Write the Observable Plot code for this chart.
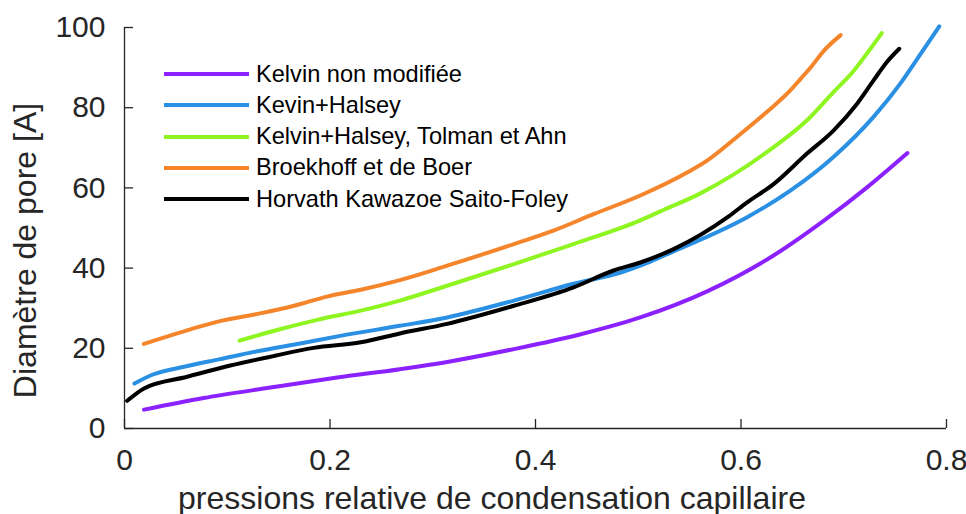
<!DOCTYPE html>
<html><head><meta charset="utf-8">
<script src="https://cdn.jsdelivr.net/npm/d3@7"></script>
<script src="https://cdn.jsdelivr.net/npm/@observablehq/plot@0.6"></script>
<style>
body{margin:0;background:#fff;}
#wrap{position:relative;width:966px;height:514px;font-family:"Liberation Sans",Arial,Helvetica,sans-serif;}
.leg{position:absolute;left:164px;height:30px;display:flex;align-items:center;font-size:23.6px;color:#000;white-space:nowrap;}
.leg .sw{width:85px;height:4px;margin-right:7px;}
</style></head><body><div id="wrap"></div>
<script>
const seriesNames = ["Kelvin non modifiée", "Kevin+Halsey", "Kelvin+Halsey, Tolman et Ahn", "Broekhoff et de Boer", "Horvath Kawazoe Saito-Foley"];
const seriesColors = ["#8c21ff", "#2a90e4", "#8ef520", "#f5852a", "#000000"];

const kelvinX = [0.019,0.077,0.142,0.207,0.268,0.314,0.379,0.444,0.502,0.567,0.632,0.681,0.723,0.762];
const kelvinY = [4.7,7.6,10.2,12.7,14.8,16.6,19.8,23.5,27.7,34.2,43.2,51.9,60.2,68.7];

const halseyX = [0.0097,0.027,0.058,0.093,0.132,0.171,0.21,0.268,0.314,0.379,0.437,0.483,0.502,0.522,0.551,0.606,0.648,0.690,0.729,0.755,0.775,0.793];
const halseyY = [11.2,13.4,15.4,17.3,19.4,21.2,23.1,25.6,27.7,31.9,36.1,38.9,40.6,42.8,46.0,52.7,59.3,67.7,77.7,86.0,93.5,100.3];

const tolmanX = [0.112,0.152,0.1875,0.23,0.268,0.314,0.379,0.437,0.502,0.522,0.561,0.625,0.664,0.690,0.710,0.726,0.737];
const tolmanY = [21.9,24.8,27.1,29.4,31.9,35.6,41.0,46.0,51.9,54.2,58.7,68.9,76.8,83.9,89.3,94.7,98.6];

const broekX = [0.0188,0.065,0.095,0.132,0.165,0.197,0.23,0.268,0.314,0.379,0.418,0.457,0.502,0.548,0.567,0.596,0.625,0.648,0.658,0.668,0.681,0.697];
const broekY = [21.1,24.8,26.9,28.7,30.6,32.9,34.6,37.0,40.6,46.0,49.4,53.5,58.1,63.9,66.8,72.7,78.9,84.3,87.2,90.1,94.3,98.1];

const hkX = [0.0026,0.019,0.061,0.103,0.142,0.184,0.23,0.268,0.314,0.379,0.437,0.476,0.502,0.535,0.587,0.606,0.632,0.664,0.690,0.713,0.729,0.742,0.754];
const hkY = [6.9,10.0,12.9,15.7,17.9,20.1,21.5,23.7,26.1,30.6,35.2,39.4,41.4,44.8,52.7,56.4,61.0,68.5,74.3,81.0,86.8,91.4,94.7];

const xTicks = [0, 0.2, 0.4, 0.6, 0.8];
const yTicks = [0, 20, 40, 60, 80, 100];
const xLabel = "pressions relative de condensation capillaire";
const yLabel = "Diamètre de pore [A]";

const seriesXs = [kelvinX, halseyX, tolmanX, broekX, hkX];
const seriesYs = [kelvinY, halseyY, tolmanY, broekY, hkY];
const rows = [];
seriesNames.forEach((name, s) => {
  seriesXs[s].forEach((x, i) => rows.push({series: name, x, y: seriesYs[s][i]}));
});

const axisColor = "#262626";
const fmt = d => String(d);
const chart = Plot.plot({
  width: 966,
  height: 514,
  marginLeft: 124,
  marginRight: 20,
  marginTop: 27,
  marginBottom: 86,
  style: {fontFamily: "'Liberation Sans', Arial, Helvetica, sans-serif", fontSize: "30px", background: "#fff", color: axisColor},
  x: {domain: [0, 0.8]},
  y: {domain: [0, 100]},
  color: {domain: seriesNames, range: seriesColors},
  marks: [
    Plot.line(rows, {x: "x", y: "y", z: "series", stroke: "series", strokeWidth: 4, strokeLinejoin: "round", curve: "monotone-x"}),
    Plot.ruleX([0], {stroke: axisColor, strokeWidth: 1.3}),
    Plot.ruleY([0], {stroke: axisColor, strokeWidth: 1.3}),
    Plot.axisY(yTicks, {tickSize: 9, dx: 9, fill: "none", label: null, stroke: axisColor, strokeWidth: 1.3}),
    Plot.axisX(xTicks, {tickSize: 9, dy: -9, fill: "none", label: null, stroke: axisColor, strokeWidth: 1.3}),
    Plot.axisY(yTicks, {tickSize: 0, tickPadding: 19, label: null, fill: axisColor, tickFormat: fmt}),
    Plot.axisX(xTicks, {tickSize: 0, tickPadding: 20, label: null, fill: axisColor, tickFormat: fmt}),
    Plot.text([xLabel], {frameAnchor: "bottom", lineAnchor: "bottom", textAnchor: "middle", dx: -43.5, dy: 80, fontSize: 32, fill: axisColor}),
    Plot.text([yLabel], {frameAnchor: "left", rotate: -90, lineAnchor: "bottom", textAnchor: "middle", dx: -88.7, dy: 22.5, fontSize: 32, fill: axisColor})
  ]
});
const wrap = document.getElementById("wrap");
wrap.appendChild(chart);

seriesNames.forEach((name, i) => {
  const row = document.createElement("div");
  row.className = "leg";
  row.style.top = (74 + i * 31.3 - 15) + "px";
  const sw = document.createElement("span");
  sw.className = "sw";
  sw.style.background = seriesColors[i];
  const t = document.createElement("span");
  t.textContent = name;
  row.appendChild(sw);
  row.appendChild(t);
  wrap.appendChild(row);
});
</script>
</body></html>
